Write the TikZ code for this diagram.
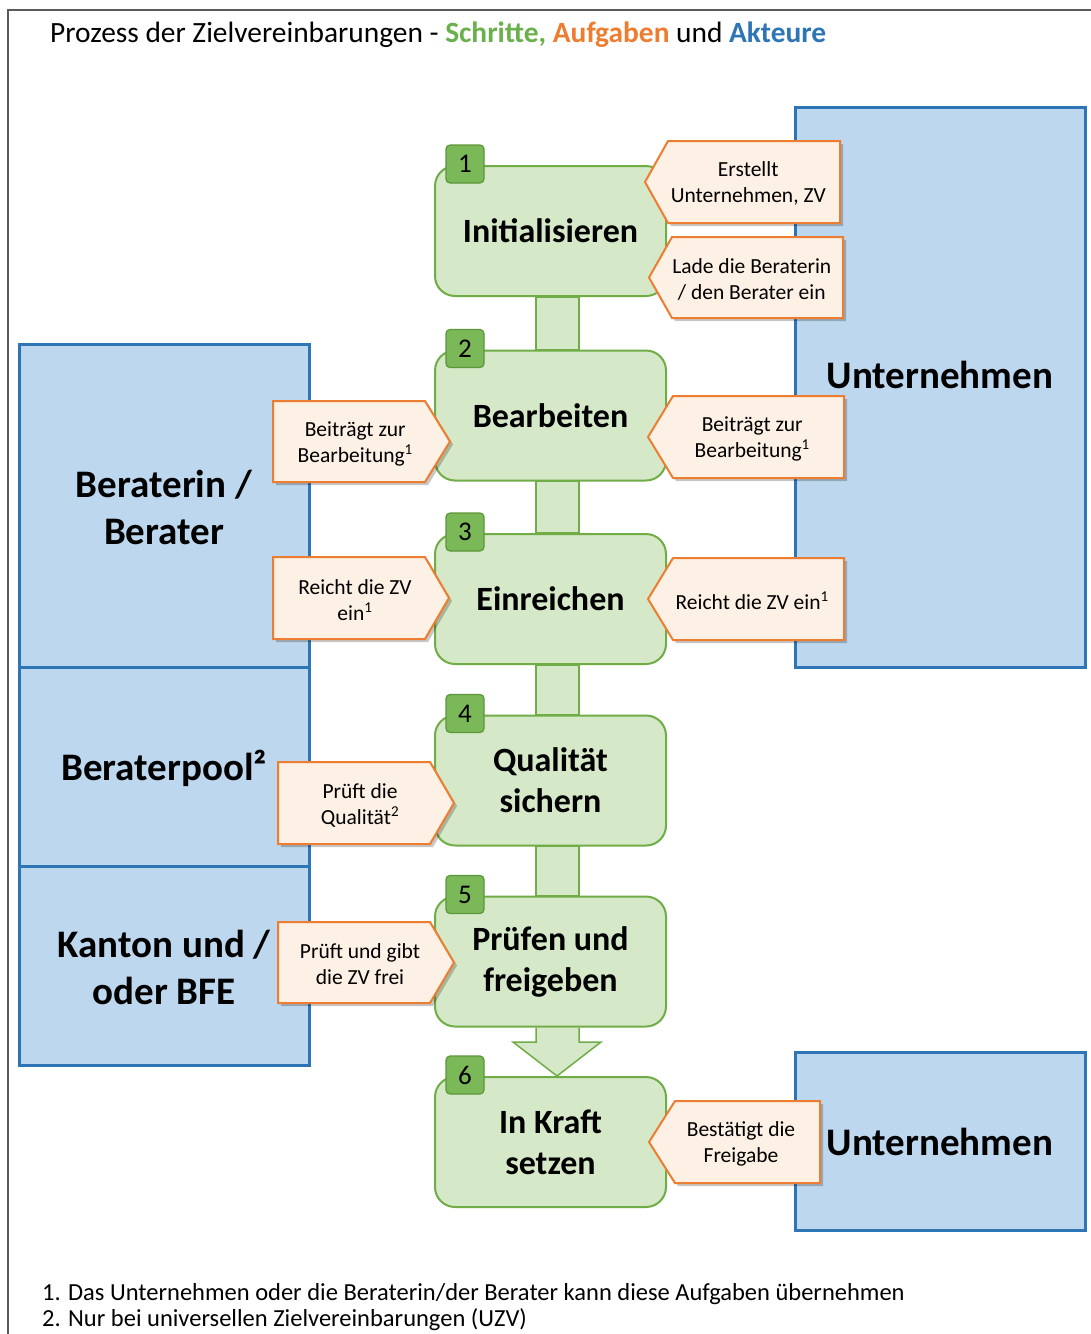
\documentclass[tikz,border=0pt]{standalone}
\usepackage{fontspec}
\setmainfont{Carlito}
\usetikzlibrary{calc,backgrounds}
\definecolor{stepfill}{RGB}{213,232,200}
\definecolor{stepline}{RGB}{112,173,71}
\definecolor{badgefill}{RGB}{122,184,88}
\definecolor{badgeline}{RGB}{94,150,58}
\definecolor{actfill}{RGB}{189,215,238}
\definecolor{actline}{RGB}{46,117,182}
\definecolor{callfill}{RGB}{253,240,228}
\definecolor{callline}{RGB}{237,125,49}
\definecolor{ttlgreen}{RGB}{106,176,76}
\definecolor{ttlorange}{RGB}{237,125,49}
\definecolor{ttlblue}{RGB}{46,117,182}
\definecolor{framec}{RGB}{90,90,90}

\tikzset{
 actor/.style={draw=actline, line width=3pt, fill=actfill, minimum width=290pt, inner sep=0pt},
 actortext/.style={font=\fontsize{39}{47}\selectfont\bfseries, align=center, inner sep=0pt},
 stepbox/.style={draw=stepline, line width=2pt, fill=stepfill, rounded corners=20pt, minimum width=231pt, minimum height=130pt, font=\fontsize{34}{41}\selectfont\bfseries, align=center},
 badge/.style={draw=badgeline, line width=1.2pt, fill=badgefill, rounded corners=4pt, minimum width=38pt, minimum height=38pt, inner sep=0pt, font=\fontsize{27}{30}\selectfont},
 bar/.style={draw=stepline, line width=1.5pt, fill=stepfill},
 callshape/.style={draw=callline, line width=2pt, fill=callfill, line join=miter},
 callshadow/.style={fill=black, opacity=0.22},
 calltext/.style={font=\fontsize{21.5}{26}\selectfont, align=center, inner sep=0pt},
}

% callout with tip on the left: name, tipx, bodyx, rightx, top, bottom, text
\newcommand\callW[7]{%
 \path[callshadow, shift={(3,3)}] (#2,{(#5+#6)/2}) -- (#3,#5) -- (#4,#5) -- (#4,#6) -- (#3,#6) -- cycle;
 \draw[callshape] (#2,{(#5+#6)/2}) -- (#3,#5) -- (#4,#5) -- (#4,#6) -- (#3,#6) -- cycle;
 \node[calltext] (#1) at ({(#2+#3)/4+#4/2},{(#5+#6)/2+1.5}) {#7};
}
% callout with tip on the right: name, leftx, bodyx, tipx, top, bottom, text
\newcommand\callE[7]{%
 \path[callshadow, shift={(3,3)}] (#2,#5) -- (#3,#5) -- (#4,{(#5+#6)/2}) -- (#3,#6) -- (#2,#6) -- cycle;
 \draw[callshape] (#2,#5) -- (#3,#5) -- (#4,{(#5+#6)/2}) -- (#3,#6) -- (#2,#6) -- cycle;
 \node[calltext] (#1) at ({(#3+#4)/4+#2/2},{(#5+#6)/2+2}) {#7};
}

\begin{document}
\begin{tikzpicture}[x=1pt,y=-1pt]
\useasboundingbox (0,0) rectangle (1091,1334);

% frame
\draw[framec, line width=1.5pt] (8,1334) -- (8,10) -- (1091,10);

% title
\node[anchor=base west, inner sep=0pt] (title) at (50,42) {\fontsize{29.4}{32}\selectfont Prozess der Zielvereinbarungen - {\bfseries\color{ttlgreen}Schritte,} {\bfseries\color{ttlorange}Aufgaben} und {\bfseries\color{ttlblue}Akteure}};

% actors
\node[actor, minimum height=560pt] (u1) at (940,387) {};
\node[actortext] (u1t) at (940,375) {Unternehmen};
\node[actor, minimum height=178pt] (u2) at (940,1141) {};
\node[actortext] (u2t) at (940,1142) {Unternehmen};
\node[actor, minimum height=323pt] (b1) at (164,505.5) {};
\node[actortext] (b1t) at (164,507) {Beraterin /\\Berater};
\node[actor, minimum height=199pt] (b2) at (164,766.5) {};
\node[actortext] (b2t) at (164,768) {Beraterpool²};
\node[actor, minimum height=199pt] (b3) at (164,965.5) {};
\node[actortext] (b3t) at (164,967) {Kanton und /\\oder BFE};

% steps
\node[stepbox] (s1) at (550.5,231) {Initialisieren};
\node[stepbox] (s2) at (550.5,415.5) {Bearbeiten};
\node[stepbox] (s3) at (550.5,599) {Einreichen};
\node[stepbox] (s4) at (550.5,780.5) {Qualität\\sichern};
\node[stepbox] (s5) at (550.5,961.5) {Prüfen und\\freigeben};
\node[stepbox] (s6) at (550.5,1142) {In Kraft\\setzen};

\foreach \i in {1,...,6}
  \node[badge] (n\i) at ($(s\i.north west)+(31,-1)$) {\i};

% connectors
\begin{scope}[on background layer]
\fill[white] (0,0) rectangle (1091,1334);
\foreach \a/\b in {s1/s2,s2/s3,s3/s4,s4/s5}
  \draw[bar] ($(\a.south)+(-14.5,0)$) rectangle ($(\b.north)+(28.5,0)$);
\draw[bar] ($(s5.south)+(-14.5,0)$) -- ($(s6.north)+(-14.5,-34)$) -- ($(s6.north)+(-37.5,-34)$)
  -- ($(s6.north)+(6.5,0)$) -- ($(s6.north)+(50.5,-34)$) -- ($(s6.north)+(28.5,-34)$)
  -- ($(s5.south)+(28.5,0)$);
\end{scope}

% callouts right
\callW{c1a}{645}{668}{840}{141}{223}{Erstellt\\Unternehmen, ZV}
\callW{c1b}{649}{672}{843}{237}{318}{Lade die Beraterin\\/ den Berater ein}
\callW{c2r}{648}{673}{844}{396}{478}{Beiträgt zur\\Bearbeitung\textsuperscript{1}}
\callW{c3r}{648}{673}{844}{558}{640}{Reicht die ZV ein\textsuperscript{1}}
\callW{c6r}{649}{675}{820}{1101}{1183}{Bestätigt die\\Freigabe}
% callouts left
\callE{c2l}{273}{425}{450}{401}{482}{Beiträgt zur\\Bearbeitung\textsuperscript{1}}
\callE{c3l}{273}{425}{449}{557}{639}{Reicht die ZV\\ein\textsuperscript{1}}
\callE{c4l}{278}{430}{454}{762}{844}{Prüft die\\Qualität\textsuperscript{2}}
\callE{c5l}{278}{430}{454}{922}{1003}{Prüft und gibt\\die ZV frei}

% footnotes
\node[anchor=base west, inner sep=0pt, font=\fontsize{24.5}{28}\selectfont] (fn1) at (42,1300) {1. Das Unternehmen oder die Beraterin/der Berater kann diese Aufgaben übernehmen};
\node[anchor=base west, inner sep=0pt, font=\fontsize{24.5}{28}\selectfont] (fn2) at (42,1326) {2. Nur bei universellen Zielvereinbarungen (UZV)};
\end{tikzpicture}
\end{document}
